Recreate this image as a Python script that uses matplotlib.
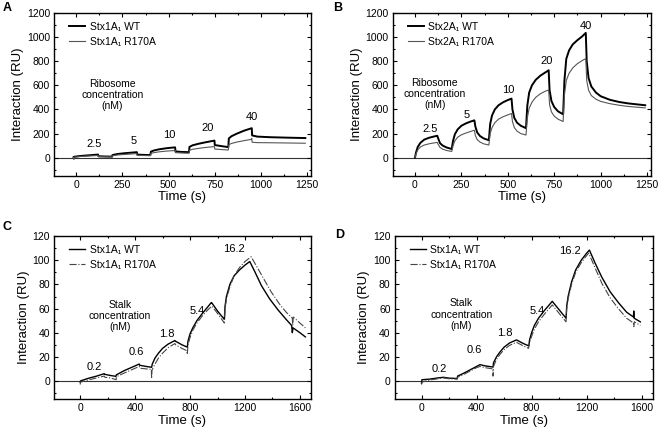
import matplotlib
matplotlib.use("Agg")
from matplotlib import pyplot as plt
from matplotlib.ticker import MultipleLocator

plt.rcParams['font.family'] = ['Liberation Sans', 'DejaVu Sans']

# Panel A: Stx1A1 vs ribosome
a_t_wt = [-15, -13, -11, 20, 60, 100, 118, 120, 160, 194,
          196, 220, 260, 300, 328, 330, 370, 401,
          404, 420, 450, 490, 535, 537, 570, 610,
          613, 630, 660, 700, 748, 750, 790, 823,
          826, 840, 870, 910, 950, 952, 980, 1050, 1150, 1240]
a_wt = [2, -8, 8, 14, 19, 24, 26, 12, 10, 9,
        22, 30, 37, 42, 46, 26, 23, 22,
        50, 60, 70, 79, 86, 52, 48, 46,
        90, 103, 115, 128, 142, 105, 95, 88,
        160, 178, 200, 225, 245, 185, 175, 170, 166, 163]
a_t_mut = [-15, -13, -11, 20, 60, 100, 118, 120, 160, 194,
           196, 220, 260, 300, 328, 330, 370, 401,
           404, 420, 450, 490, 535, 537, 570, 610,
           613, 630, 660, 700, 748, 750, 790, 823,
           826, 840, 870, 910, 948, 950, 952, 980, 1050, 1150, 1240]
a_mut = [0, -10, 5, 10, 14, 17, 19, 9, 8, 7,
         16, 22, 27, 31, 34, 20, 18, 17,
         36, 42, 49, 55, 60, 42, 39, 37,
         62, 70, 77, 85, 92, 72, 67, 64,
         108, 118, 130, 142, 152, 160, 128, 125, 124, 122, 120]

# Panel B: Stx2A1 vs ribosome
b_t = [0, 5, 15, 30, 50, 75, 100, 120, 125, 135, 150, 170, 198,
       205, 215, 230, 250, 275, 300, 320, 325, 335, 350, 370, 398,
       405, 415, 430, 450, 475, 500, 520, 525, 535, 550, 570, 598,
       605, 615, 630, 650, 675, 700, 720, 725, 735, 750, 770, 798,
       805, 815, 830, 850, 875, 900, 920, 925, 935, 950, 975, 1000,
       1050, 1100, 1150, 1240]
b_wt = [0, 40, 90, 125, 150, 165, 175, 182, 160, 120, 100, 85, 72,
        140, 195, 235, 265, 285, 300, 310, 260, 210, 180, 160, 145,
        280, 350, 400, 435, 460, 478, 490, 400, 330, 290, 265, 245,
        430, 540, 600, 645, 680, 705, 725, 560, 470, 420, 385, 360,
        640, 820, 890, 940, 975, 1005, 1035, 800, 660, 590, 540, 510,
        480, 462, 450, 435]
b_mut = [0, 30, 65, 90, 105, 115, 122, 127, 110, 85, 70, 60, 52,
         100, 140, 170, 190, 205, 218, 228, 185, 150, 130, 115, 105,
         200, 250, 290, 320, 340, 355, 367, 300, 250, 220, 200, 188,
         330, 410, 460, 500, 530, 550, 562, 440, 380, 345, 320, 300,
         520, 640, 700, 745, 780, 805, 822, 640, 560, 515, 485, 467,
         448, 435, 425, 413]

# Panel C: Stx1A1 vs stalk
c_t_wt = [0, 2, 60, 120, 175, 178, 220, 260, 263, 320, 380, 430, 433, 480, 520,
          525, 545, 570, 600, 640, 690, 693, 740, 780,
          785, 800, 820, 850, 890, 930, 955, 960, 1000, 1050,
          1055, 1065, 1090, 1120, 1160, 1200, 1235, 1270, 1320, 1380, 1440,
          1500, 1540, 1545, 1550, 1600, 1640]
c_wt = [-1, 0, 2.2, 4, 6, 5.5, 4.5, 3.8, 5, 8.5, 11.5, 14, 13, 12, 11.3,
        14, 19, 23, 27, 30.5, 33.5, 33, 30, 28,
        33, 39, 44, 50, 56, 61.5, 65, 64.5, 58, 51,
        62, 70, 80, 87, 92, 96, 99, 91, 79, 68, 59,
        51, 46, 40, 44, 40, 36.5]
c_t_mut = [0, 2, 60, 120, 175, 180, 220, 262, 263, 320, 380, 430, 435, 480, 518, 520,
           523, 545, 570, 600, 640, 690, 695, 740, 778, 780,
           785, 800, 820, 850, 890, 930, 960, 1000, 1050,
           1055, 1065, 1090, 1120, 1160, 1200, 1245, 1280, 1330, 1390, 1450,
           1500, 1545, 1548, 1552, 1600, 1640]
c_mut = [-3, -1, 0.8, 2.5, 4, 3, 2.5, 1, 3.5, 6.5, 9.5, 12, 10.5, 10, 9.5, 2,
         9, 14, 19, 23, 27.5, 31, 30, 27, 25, 22,
         30, 36, 42, 48, 54, 59, 62, 56, 48,
         60, 68, 78, 87, 94, 99, 103, 96, 86, 74, 64,
         57, 52, 46, 53, 48, 44]

# Panel D: Stx1A1 vs stalk (repeat)
d_t_wt = [0, 3, 60, 120, 160, 200, 260, 262, 300, 350, 400, 425, 460, 520,
          523, 545, 570, 600, 640, 690, 740, 780,
          785, 800, 820, 850, 890, 950, 1000, 1050,
          1055, 1065, 1090, 1120, 1160, 1200, 1220, 1260, 1310, 1370, 1430,
          1490, 1540, 1542, 1545, 1590]
d_wt = [-2, 1, 1.5, 2.5, 3, 2.3, 2, 4, 6, 9, 12, 13.5, 12.5, 11.5,
        15, 20, 24, 28, 31.5, 34, 31, 29,
        34, 40, 46, 52, 58, 66, 59, 52,
        62, 70, 82, 92, 100, 106, 108.5, 98, 86, 74, 65,
        57, 53, 58, 52, 49]
d_t_mut = [0, 3, 60, 120, 160, 200, 260, 262, 300, 350, 400, 425, 460, 518, 520,
           523, 545, 570, 600, 640, 690, 740, 778,
           782, 800, 820, 850, 890, 950, 1000, 1050,
           1055, 1065, 1090, 1120, 1160, 1200, 1215, 1260, 1310, 1370, 1430,
           1490, 1540, 1543, 1546, 1590]
d_mut = [-3, -1, 0.8, 1.8, 2.5, 1.8, 1.5, 3, 5, 8, 11, 12, 11, 10, 4,
         12, 18, 22, 26, 29.5, 32, 29, 27,
         31, 37, 43, 49, 55, 63, 56, 49,
         60, 68, 80, 90, 98, 104, 106, 94, 81, 69, 60,
         52, 48, 45, 49, 46]

ribo_labels = ['2.5', '5', '10', '20', '40']
a_lab_x = [94, 308, 501, 713, 948]
a_lab_y = [115, 140, 189, 249, 340]
b_lab_x = [80, 280, 505, 710, 918]
b_lab_y = [240, 350, 560, 805, 1093]

stalk_labels = ['0.2', '0.6', '1.8', '5.4', '16.2']
c_lab_x = [100, 406, 630, 855, 1120]
c_lab_y = [11.6, 24, 39, 58, 109.6]
d_lab_x = [126, 386, 605, 840, 1079]
d_lab_y = [10.2, 25.4, 40, 58, 108]

fig = plt.figure(figsize=(6.6, 4.33), dpi=100)
ax_a = fig.add_axes([0.082, 0.594, 0.389, 0.376])
ax_b = fig.add_axes([0.595, 0.594, 0.391, 0.376])
ax_c = fig.add_axes([0.082, 0.0785, 0.389, 0.376])
ax_d = fig.add_axes([0.598, 0.0785, 0.391, 0.376])


def style_axes(ax, xlim, ylim, xmaj, ymaj):
    ax.set_xlim(*xlim)
    ax.set_ylim(*ylim)
    ax.xaxis.set_major_locator(MultipleLocator(xmaj))
    ax.xaxis.set_minor_locator(MultipleLocator(xmaj / 2))
    ax.yaxis.set_major_locator(MultipleLocator(ymaj))
    ax.yaxis.set_minor_locator(MultipleLocator(ymaj / 2))
    ax.tick_params(which='both', direction='in', top=True, right=True,
                   labelsize=7.5, width=0.8, pad=3)
    ax.tick_params(which='major', length=3)
    ax.tick_params(which='minor', length=1.5)
    for s in ax.spines.values():
        s.set_linewidth(1.0)
    ax.axhline(0, color='#333333', lw=0.8, zorder=1)
    ax.set_xlabel('Time (s)', fontsize=9.5, labelpad=1)
    ax.set_ylabel('Interaction (RU)', fontsize=9.5, labelpad=2)


# A
ax_a.plot(a_t_wt, a_wt, color='black', lw=1.4, label='Stx1A\u2081 WT')
ax_a.plot(a_t_mut, a_mut, color='#555555', lw=0.8, label='Stx1A\u2081 R170A')
style_axes(ax_a, (-120, 1270), (-150, 1200), 250, 200)
ax_a.set_yticks([0, 200, 400, 600, 800, 1000, 1200])
for s, x, y in zip(ribo_labels, a_lab_x, a_lab_y):
    ax_a.text(x, y, s, ha='center', va='center', fontsize=8)
ax_a.text(195, 520, 'Ribosome\nconcentration\n(nM)', ha='center', va='center',
          fontsize=7.5, linespacing=1.15)

# B
ax_b.plot(b_t, b_wt, color='black', lw=1.4, label='Stx2A\u2081 WT')
ax_b.plot(b_t, b_mut, color='#555555', lw=0.8, label='Stx2A\u2081 R170A')
style_axes(ax_b, (-120, 1270), (-150, 1200), 250, 200)
ax_b.set_yticks([0, 200, 400, 600, 800, 1000, 1200])
for s, x, y in zip(ribo_labels, b_lab_x, b_lab_y):
    ax_b.text(x, y, s, ha='center', va='center', fontsize=8)
ax_b.text(107, 530, 'Ribosome\nconcentration\n(nM)', ha='center', va='center',
          fontsize=7.5, linespacing=1.15)

# C
ax_c.plot(c_t_wt, c_wt, color='black', lw=1.0, label='Stx1A\u2081 WT')
ax_c.plot(c_t_mut, c_mut, color='#444444', lw=0.8, ls='-.', label='Stx1A\u2081 R170A')
style_axes(ax_c, (-190, 1680), (-15, 120), 400, 20)
ax_c.set_yticks([0, 20, 40, 60, 80, 100, 120])
for s, x, y in zip(stalk_labels, c_lab_x, c_lab_y):
    ax_c.text(x, y, s, ha='center', va='center', fontsize=8)
ax_c.text(289, 54, 'Stalk\nconcentration\n(nM)', ha='center', va='center',
          fontsize=7.5, linespacing=1.15)

# D
ax_d.plot(d_t_wt, d_wt, color='black', lw=1.0, label='Stx1A\u2081 WT')
ax_d.plot(d_t_mut, d_mut, color='#444444', lw=0.8, ls='-.', label='Stx1A\u2081 R170A')
style_axes(ax_d, (-195, 1680), (-15, 120), 400, 20)
ax_d.set_yticks([0, 20, 40, 60, 80, 100, 120])
for s, x, y in zip(stalk_labels, d_lab_x, d_lab_y):
    ax_d.text(x, y, s, ha='center', va='center', fontsize=8)
ax_d.text(289, 55, 'Stalk\nconcentration\n(nM)', ha='center', va='center',
          fontsize=7.5, linespacing=1.15)

for ax in (ax_a, ax_b, ax_c, ax_d):
    ax.legend(loc='upper left', bbox_to_anchor=(0.035, 0.985), frameon=False,
              fontsize=7.5, handlelength=1.5, handletextpad=0.45,
              labelspacing=0.5, borderaxespad=0.2)

for lab, x, y in [('A', 0.004, 0.995), ('B', 0.505, 0.995),
                  ('C', 0.004, 0.49), ('D', 0.508, 0.472)]:
    fig.text(x, y, lab, fontsize=9, fontweight='bold', va='top', ha='left')

fig.savefig('out.png', dpi=100)
